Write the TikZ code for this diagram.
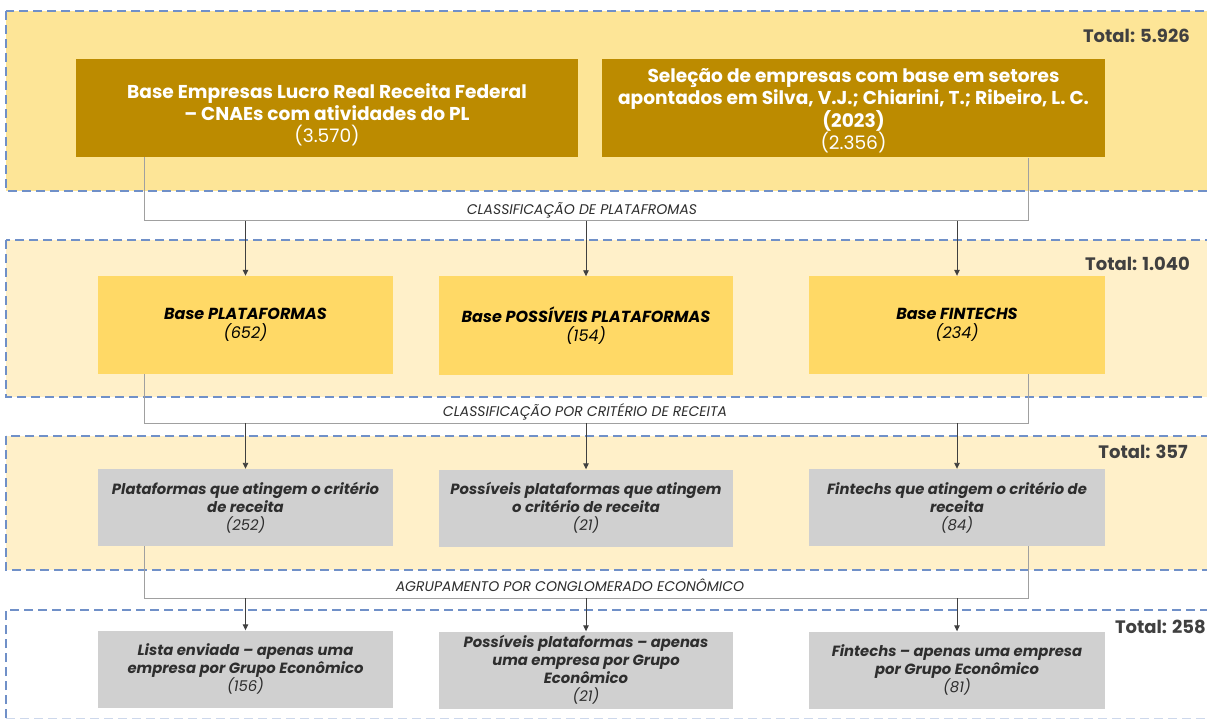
\documentclass[tikz,border=0pt]{standalone}
\usepackage{fontspec}
\setmainfont{Poppins}
\usetikzlibrary{arrows.meta,calc}
\definecolor{bandA}{HTML}{FDE597}
\definecolor{bandB}{HTML}{FFF0C9}
\definecolor{darkgold}{HTML}{BC8B00}
\definecolor{yellowbox}{HTML}{FFD966}
\definecolor{graybox}{HTML}{D0D0D0}
\definecolor{dashblue}{HTML}{7090C8}
\definecolor{linegray}{HTML}{A0A0A0}
\definecolor{txtdark}{HTML}{2E2E2E}
\definecolor{totgray}{HTML}{404040}
\tikzset{
  band/.style={draw=dashblue, line width=1.3pt, dash pattern=on 9pt off 5pt},
  topbox/.style={fill=darkgold, draw=none, minimum width=502pt, minimum height=98pt, align=center, text=white, inner sep=0pt,
    font=\fontsize{18.6}{21.8}\selectfont\bfseries},
  toptext/.style={inner sep=0pt, align=center, text=white, font=\fontsize{18.6}{21.8}\selectfont\bfseries},
  ybox/.style={fill=yellowbox, draw=none, minimum width=295pt, minimum height=98pt, align=center, text=black, inner sep=0pt,
    font=\fontsize{16}{19}\selectfont\bfseries\itshape},
  gbox/.style={fill=graybox, draw=none, minimum width=295pt, minimum height=77pt, align=center, text=txtdark, inner sep=0pt,
    font=\fontsize{14.8}{18}\selectfont\bfseries\itshape},
  total/.style={anchor=east, text=totgray, inner sep=0pt, font=\fontsize{18}{20}\selectfont\bfseries},
  steplabel/.style={inner sep=0pt, text=txtdark, font=\fontsize{14}{16}\selectfont\itshape},
  conn/.style={draw=linegray, line width=1pt},
  arr/.style={draw=black!75, line width=0.9pt, -{Triangle[length=6pt,width=5.5pt]}},
}
\newcommand{\lightnum}[1]{{\mdseries #1}}
\begin{document}
\begin{tikzpicture}[x=1pt,y=-1pt]
\useasboundingbox (0,0) rectangle (1207,719);
\clip (0,0) rectangle (1207,719);
\fill[white] (0,0) rectangle (1207,719);
% bands
\path[band, fill=bandA] (6,11) rectangle (1230,191);
\path[band, fill=bandB] (6,240) rectangle (1230,397);
\path[band, fill=bandB] (6,436) rectangle (1230,570);
\path[band] (6,718) -- (6,610) -- (1230,610);
\path[draw=dashblue!35, line width=1pt, dash pattern=on 9pt off 5pt] (6,718) -- (1230,718);
% totals
\node[total] (t1) at (1190,36) {Total: 5.926};
\node[total] (t2) at (1190,264) {Total: 1.040};
\node[total] (t3) at (1188,452) {Total: 357};
\node[total] (t4) at (1206,627) {Total: 258};
% top boxes
\node[topbox] (b1) at (327,108) {};
\node[toptext] (b1t) at ([yshift=-7pt]b1.center) {Base Empresas Lucro Real Receita Federal\\ – CNAEs com atividades do PL\\ \lightnum{(3.570)}};
\node[topbox, minimum width=503pt] (b2) at (853.5,108.5) {};
\node[toptext] (b2t) at ([yshift=-2pt]b2.center) {Seleção de empresas com base em setores\\ apontados em Silva, V.J.; Chiarini, T.; Ribeiro, L. C.\\ (2023)\\ \lightnum{(2.356)}};
% band 2 boxes
\node[ybox] (p1) at (245.5,325) {Base PLATAFORMAS\\ \lightnum{(652)}};
\node[ybox, minimum width=294pt] (p2) at (586,325.5) {Base POSSÍVEIS PLATAFORMAS\\ \lightnum{(154)}};
\node[ybox, minimum width=296pt] (p3) at (957,325) {Base FINTECHS\\ \lightnum{(234)}};
% band 3 boxes
\node[gbox] (r1) at (245.5,507.5) {Plataformas que atingem o critério\\ de receita\\ \lightnum{(252)}};
\node[gbox, minimum width=294pt] (r2) at (586,508) {Possíveis plataformas que atingem\\ o critério de receita\\ \lightnum{(21)}};
\node[gbox, minimum width=296pt] (r3) at (957,507.5) {Fintechs que atingem o critério de\\ receita\\ \lightnum{(84)}};
% band 4 boxes
\node[gbox] (g1) at (245.5,669) {Lista enviada – apenas uma\\ empresa por Grupo Econômico\\ \lightnum{(156)}};
\node[gbox, minimum width=294pt] (g2) at (586,670) {Possíveis plataformas – apenas\\ uma empresa por Grupo\\ Econômico\\ \lightnum{(21)}};
\node[gbox, minimum width=296pt] (g3) at (957,670) {Fintechs – apenas uma empresa\\ por Grupo Econômico\\ \lightnum{(81)}};
% connector 1
\coordinate (h1l) at (144,221);
\coordinate (h1r) at (1028,221);
\draw[conn] (b1.south -| h1l) -- (h1l) -- (h1r) -- (b2.south -| h1r);
\node[steplabel] (l1) at (582,210) {CLASSIFICAÇÃO DE PLATAFROMAS};
\draw[arr] (p1.north |- h1l) -- (p1.north);
\draw[arr] (p2.north |- h1l) -- (p2.north);
\draw[arr] (p3.north |- h1l) -- (p3.north);
% connector 2
\coordinate (h2l) at (144,423);
\coordinate (h2r) at (1028,423);
\draw[conn] (p1.south -| h2l) -- (h2l) -- (h2r) -- (p3.south -| h2r);
\node[steplabel] (l2) at (585,412) {CLASSIFICAÇÃO POR CRITÉRIO DE RECEITA};
\draw[arr] (r1.north |- h2l) -- (r1.north);
\draw[arr] (r2.north |- h2l) -- (r2.north);
\draw[arr] (r3.north |- h2l) -- (r3.north);
% connector 3
\coordinate (h3l) at (144,598);
\coordinate (h3r) at (1028,598);
\draw[conn] (r1.south -| h3l) -- (h3l) -- (h3r) -- (r3.south -| h3r);
\node[steplabel] (l3) at (570,585) {AGRUPAMENTO POR CONGLOMERADO ECONÔMICO};
\draw[arr] (g1.north |- h3l) -- (g1.north);
\draw[arr] (g2.north |- h3l) -- (g2.north);
\draw[arr] (g3.north |- h3l) -- (g3.north);
\end{tikzpicture}
\end{document}
